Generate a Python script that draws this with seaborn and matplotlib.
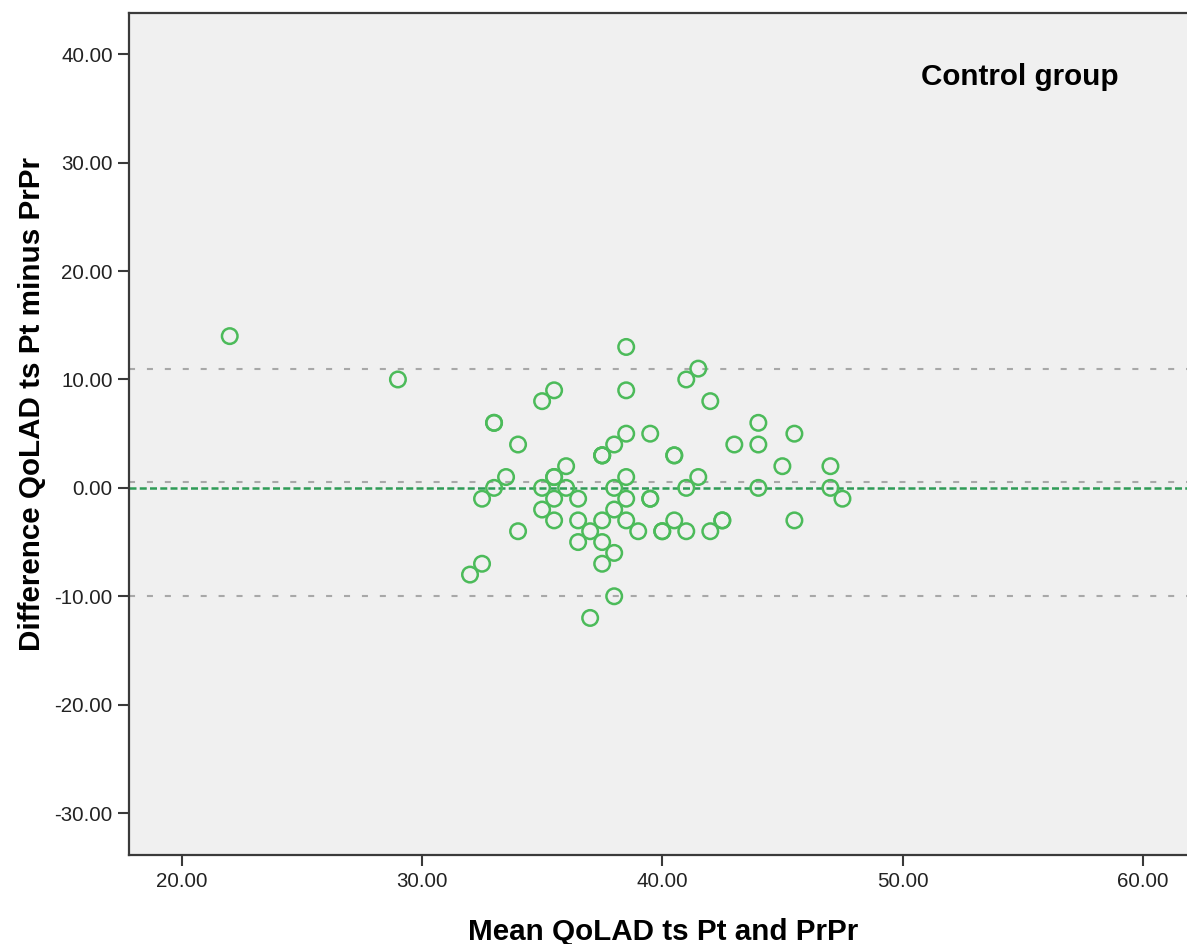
import matplotlib

matplotlib.use("Agg")
import matplotlib.pyplot as plt
import numpy as np
import pandas as pd
import seaborn as sns

# Bland-Altman data (mean of the two scores, difference)
MEAN_SCORE = [
    22.0, 29.0, 32.0, 32.5, 32.5, 33.0, 33.0, 33.0, 33.5, 34.0, 34.0,
    35.0, 35.0, 35.0, 35.5, 35.5, 35.5, 35.5, 35.5, 36.0, 36.0,
    36.5, 36.5, 36.5, 37.0, 37.0, 37.5, 37.5, 37.5, 37.5, 37.5, 37.5,
    38.0, 38.0, 38.0, 38.0, 38.0,
    38.5, 38.5, 38.5, 38.5, 38.5, 38.5, 39.0, 39.5, 39.5, 39.5,
    40.0, 40.0, 40.5, 40.5, 40.5, 41.0, 41.0, 41.0, 41.5, 41.5,
    42.0, 42.0, 42.5, 42.5, 43.0, 44.0, 44.0, 44.0, 45.0, 45.5, 45.5,
    47.0, 47.0, 47.5,
]
DIFFERENCE = [
    14, 10, -8, -7, -1, 0, 6, 6, 1, 4, -4,
    8, 0, -2, 9, 1, 1, -1, -3, 2, 0,
    -1, -3, -5, -4, -12, 3, 3, -3, -5, -7, 3,
    4, 0, -2, -6, -10,
    13, 9, 5, 1, -1, -3, -4, 5, -1, -1,
    -4, -4, 3, 3, -3, 10, 0, -4, 11, 1,
    8, -4, -3, -3, 4, 6, 4, 0, 2, 5, -3,
    2, 0, -1,
]

MEAN_DIFF = 0.5
UPPER_LOA = 11.0
LOWER_LOA = -10.0
ZERO_LINE = 0.0

X_TICKS = [20, 30, 40, 50, 60]
Y_TICKS = [-30, -20, -10, 0, 10, 20, 30, 40]

GREEN = "#4cbb5a"
GREEN_LINE = "#2f9c57"
GREY_LINE = "#a8a8a8"

df = pd.DataFrame({"mean": MEAN_SCORE, "diff": DIFFERENCE})

sns.set_theme(style="white")
plt.rcParams["font.family"] = ["Liberation Sans", "DejaVu Sans"]

fig = plt.figure(figsize=(11.87, 9.44), dpi=100)
ax = fig.add_axes([129.3 / 1187, 89 / 944, (1187 - 129.3) / 1187, 842 / 944])
ax.set_facecolor("#f0f0f0")

# limits of agreement and mean difference (grey), zero reference (green)
for y in (UPPER_LOA, MEAN_DIFF, LOWER_LOA):
    ax.axhline(y, color=GREY_LINE, lw=1.5, ls=(0, (2.9, 5.7)), zorder=1)
ax.axhline(ZERO_LINE, color=GREEN_LINE, lw=1.8, ls=(0, (2.8, 1.3)), zorder=1)

sns.scatterplot(
    data=df, x="mean", y="diff", ax=ax, marker="o", s=125,
    facecolor="none", edgecolor=GREEN, linewidth=1.8, zorder=3,
)

ax.set_xlim(17.82, 61.84)
ax.set_ylim(-33.87, 43.81)
ax.set_xticks(X_TICKS)
ax.set_yticks(Y_TICKS)
ax.set_xticklabels([f"{v:.2f}" for v in X_TICKS])
ax.set_yticklabels([f"{v:.2f}" for v in Y_TICKS])
ax.tick_params(axis="both", direction="out", length=8, width=1.5,
               color="#3a3a3a", labelsize=14.8, labelcolor="#222222", pad=4,
               left=True, bottom=True)

for side in ("left", "bottom", "top"):
    ax.spines[side].set_color("#3a3a3a")
    ax.spines[side].set_linewidth(1.6)
ax.spines["right"].set_visible(False)

ax.set_xlabel("Mean QoLAD ts Pt and PrPr", fontsize=21.3, fontweight="bold", color="black")
ax.set_ylabel("Difference QoLAD ts Pt minus PrPr", fontsize=21.3, fontweight="bold", color="black")
ax.xaxis.set_label_coords(0.505, -0.075)
ax.yaxis.set_label_coords(-0.079, 0.536)

ax.text(0.842, 0.924, "Control group", transform=ax.transAxes, fontsize=21.3,
        fontweight="bold", color="black", ha="center", va="center")

fig.savefig("out.png", dpi=100, facecolor="white")
